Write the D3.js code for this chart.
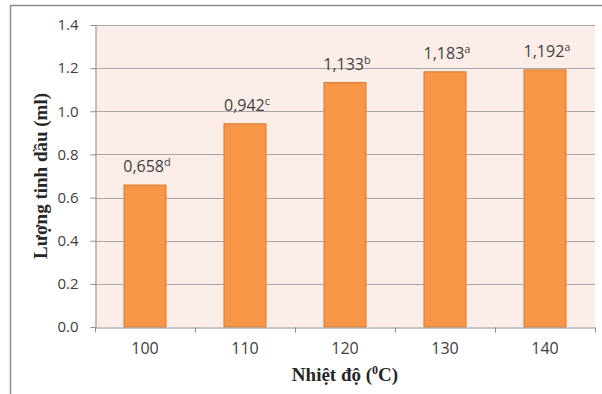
<!DOCTYPE html>
<html><head><meta charset="utf-8">
<script src="https://cdn.jsdelivr.net/npm/d3@7"></script>
<style>body{margin:0;background:#fff}svg{display:block}</style>
</head><body>
<script>
const categories = ["100","110","120","130","140"];
const values = [0.658, 0.942, 1.133, 1.183, 1.192];
const labels = ["0,658","0,942","1,133","1,183","1,192"];
const letters = ["d","c","b","a","a"];
const yTicks = [0,0.2,0.4,0.6,0.8,1.0,1.2,1.4];

const W=602,H=394;
const m={left:95,top:25,right:595,bottom:327};
const svg=d3.select("body").append("svg").attr("width",W).attr("height",H);
const FONT="'Open Sans', sans-serif";

// outer frame
svg.append("line").attr("x1",10.5).attr("x2",10.5).attr("y1",5).attr("y2",H).attr("stroke","#8c8c8c").attr("stroke-width",1.5);
svg.append("line").attr("x1",10).attr("x2",W).attr("y1",5.5).attr("y2",5.5).attr("stroke","#8c8c8c").attr("stroke-width",1.5);

const x=d3.scaleBand().domain(categories).range([m.left,m.right]).paddingInner(0.58).paddingOuter(0.29);
const y=d3.scaleLinear().domain([0,1.4]).range([m.bottom,m.top]);

svg.append("rect").attr("x",m.left).attr("y",m.top).attr("width",m.right-m.left).attr("height",m.bottom-m.top).attr("fill","#fdede8");

svg.append("g").selectAll("line").data(yTicks.slice(1)).join("line")
 .attr("x1",m.left).attr("x2",m.right).attr("y1",d=>Math.round(y(d))+0.5).attr("y2",d=>Math.round(y(d))+0.5)
 .attr("stroke","#a6a6a6").attr("stroke-width",1);

svg.append("g").selectAll("rect").data(values).join("rect")
 .attr("x",(d,i)=>x(categories[i])).attr("width",x.bandwidth())
 .attr("y",d=>y(d)).attr("height",d=>m.bottom-y(d))
 .attr("fill","#f79646").attr("stroke","#d9782f").attr("stroke-width",1);

// y axis
const ya=svg.append("g").attr("transform",`translate(${m.left+0.5},0)`)
 .call(d3.axisLeft(y).tickValues(yTicks).tickFormat(d3.format(".1f")).tickSize(5).tickSizeOuter(0));
ya.select(".domain").attr("stroke","#8c8c8c");
ya.selectAll(".tick line").attr("stroke","#8c8c8c");
ya.selectAll("text").attr("font-family",FONT).attr("font-size",15).attr("fill","#404040").attr("x",-17);

// x axis
const xa=svg.append("g").attr("transform",`translate(0,${m.bottom+0.5})`)
 .call(d3.axisBottom(x).tickSize(0).tickSizeOuter(0));
xa.select(".domain").attr("stroke","#8c8c8c");
xa.selectAll("text").attr("font-family",FONT).attr("font-size",16).attr("fill","#404040").attr("dy","1.45em");
const step=x.step();
const bounds=categories.map(c=>x(c)-(step-x.bandwidth())/2).concat([m.right]);
xa.append("g").selectAll("line").data(bounds).join("line")
 .attr("x1",d=>Math.round(d)+0.5).attr("x2",d=>Math.round(d)+0.5).attr("y1",0).attr("y2",5).attr("stroke","#8c8c8c");

// value labels
const lg=svg.append("g").attr("font-family",FONT).attr("font-size",16).attr("fill","#404040");
values.forEach((v,i)=>{
  const t=lg.append("text").attr("x",x(categories[i])+x.bandwidth()/2+2).attr("y",y(v)-13).attr("text-anchor","middle");
  t.append("tspan").text(labels[i]);
  t.append("tspan").text(letters[i]).attr("font-size",11).attr("dy",-6);
});

// axis titles
svg.append("text").attr("transform",`translate(47,${(m.top+m.bottom)/2}) rotate(-90)`).attr("text-anchor","middle")
 .attr("font-family","'Liberation Serif', serif").attr("font-weight","bold").attr("font-size",19).attr("fill","#262626")
 .text("Lượng tinh dầu (ml)");
const xt=svg.append("text").attr("x",(m.left+m.right)/2).attr("y",381).attr("text-anchor","middle")
 .attr("font-family","'Liberation Serif', serif").attr("font-weight","bold").attr("font-size",19).attr("fill","#262626");
xt.append("tspan").text("Nhiệt độ (");
xt.append("tspan").text("0").attr("font-size",12).attr("dy",-7);
xt.append("tspan").text("C)").attr("dy",7);
</script>
</body></html>
